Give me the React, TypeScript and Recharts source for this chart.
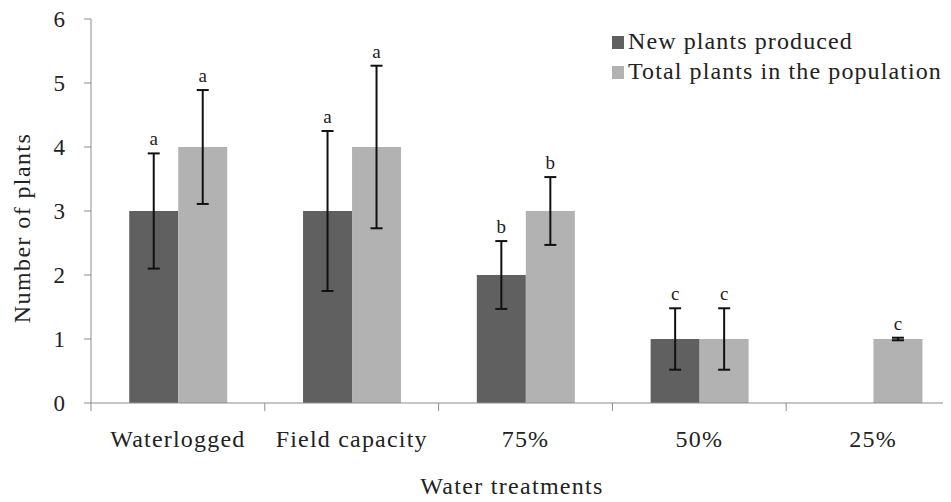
import { BarChart, Bar, XAxis, YAxis, ErrorBar, LabelList } from "recharts";

const categories = ["Waterlogged", "Field capacity", "75%", "50%", "25%"];
const newPlants = [3, 3, 2, 1, null];
const newErr = [0.9, 1.25, 0.53, 0.48, null];
const newLetters = ["a", "a", "b", "c", ""];
const totalPlants = [4, 4, 3, 1, 1];
const totalErr = [0.89, 1.27, 0.53, 0.48, 0.02];
const totalLetters = ["a", "a", "b", "c", "c"];
const yTicks = [0, 1, 2, 3, 4, 5, 6];

const DARK = "#606060";
const LIGHT = "#b2b2b2";
const AXIS = "#8c8c8c";
const FONT = "Times New Roman, Liberation Serif, Tinos, serif";

const data = categories.map((name, i) => ({
  name,
  newPlants: newPlants[i],
  newErr: newErr[i],
  newLetter: newLetters[i],
  totalPlants: totalPlants[i],
  totalErr: totalErr[i],
  totalLetter: totalLetters[i],
}));

const W = 965;
const H = 502;
const LEFT = 91;
const RIGHT = 5;
const BAND = (W - LEFT - RIGHT) / categories.length;

function XTick({ x, payload, index }: any) {
  const x0 = x - BAND / 2;
  return (
    <g>
      <line x1={x0} y1={403} x2={x0} y2={411} stroke={AXIS} strokeWidth={1} />
      {index === categories.length - 1 && (
        <line x1={x + BAND / 2} y1={403} x2={x + BAND / 2} y2={411} stroke={AXIS} />
      )}
      <text
        x={x}
        y={447}
        textAnchor="middle"
        fontFamily={FONT}
        fontSize={24}
        letterSpacing={1.2}
        fill="#222"
      >
        {payload.value}
      </text>
    </g>
  );
}

// letter above the error bar; px per unit taken from the bar itself
function letterLabel(errs: (number | null)[]) {
  return (props: any) => {
    const { x, y, width, height, value, index } = props;
    const v = data[index];
    const barVal = errs === newErr ? v.newPlants : v.totalPlants;
    if (!value || !barVal) return null;
    const pxPerUnit = height / barVal;
    const top = y - (errs[index] ?? 0) * pxPerUnit;
    return (
      <text
        x={x + width / 2}
        y={top - 8}
        textAnchor="middle"
        fontFamily={FONT}
        fontSize={19}
        fill="#222"
      >
        {value}
      </text>
    );
  };
}

function LegendBox() {
  const items = [
    { label: "New plants produced", color: DARK },
    { label: "Total plants in the population", color: LIGHT },
  ];
  return (
    <div
      style={{
        position: "absolute",
        left: 612,
        top: 26,
        fontFamily: FONT,
        fontSize: 24,
        color: "#222",
        letterSpacing: 1.1,
        whiteSpace: "nowrap",
      }}
    >
      {items.map((it) => (
        <div key={it.label} style={{ display: "flex", alignItems: "center", height: 30 }}>
          <span
            style={{ display: "inline-block", width: 12, height: 13, background: it.color, marginRight: 4, marginTop: 3 }}
          />
          <span>{it.label}</span>
        </div>
      ))}
    </div>
  );
}

export default function App() {
  return (
    <div
      style={{
        position: "relative",
        margin: -8,
        width: 951,
        height: 502,
        overflow: "hidden",
        background: "#fff",
      }}
    >
      <BarChart
        width={W}
        height={H}
        data={data}
        margin={{ top: 19, right: RIGHT, left: 0, bottom: 0 }}
        barCategoryGap="22%"
        barGap={0}
      >
        <XAxis
          dataKey="name"
          height={99}
          stroke={AXIS}
          tickLine={false}
          tick={<XTick />}
          interval={0}
          label={() => (
            <text
              x={512}
              y={494}
              textAnchor="middle"
              fontFamily={FONT}
              fontSize={24}
              letterSpacing={1.3}
              fill="#222"
            >
              Water treatments
            </text>
          )}
        />
        <YAxis
          width={LEFT}
          domain={[0, 6]}
          ticks={yTicks}
          interval={0}
          stroke={AXIS}
          tickSize={7}
          tickMargin={19}
          tick={{ fontFamily: FONT, fontSize: 23, fill: "#222" }}
          label={({ viewBox }: any) => (
            <text
              x={30}
              y={viewBox.y + viewBox.height / 2 + 17}
              transform={`rotate(-90 30 ${viewBox.y + viewBox.height / 2 + 17})`}
              textAnchor="middle"
              fontFamily={FONT}
              fontSize={24}
              letterSpacing={1.4}
              fill="#222"
            >
              Number of plants
            </text>
          )}
        />
        <Bar dataKey="newPlants" fill={DARK} isAnimationActive={false} name="New plants produced">
          <ErrorBar dataKey="newErr" width={6} stroke="#111" strokeWidth={2} direction="y" />
          <LabelList dataKey="newLetter" content={letterLabel(newErr)} />
        </Bar>
        <Bar dataKey="totalPlants" fill={LIGHT} isAnimationActive={false} name="Total plants in the population">
          <ErrorBar dataKey="totalErr" width={6} stroke="#111" strokeWidth={2} direction="y" />
          <LabelList dataKey="totalLetter" content={letterLabel(totalErr)} />
        </Bar>
      </BarChart>
      <LegendBox />
    </div>
  );
}
